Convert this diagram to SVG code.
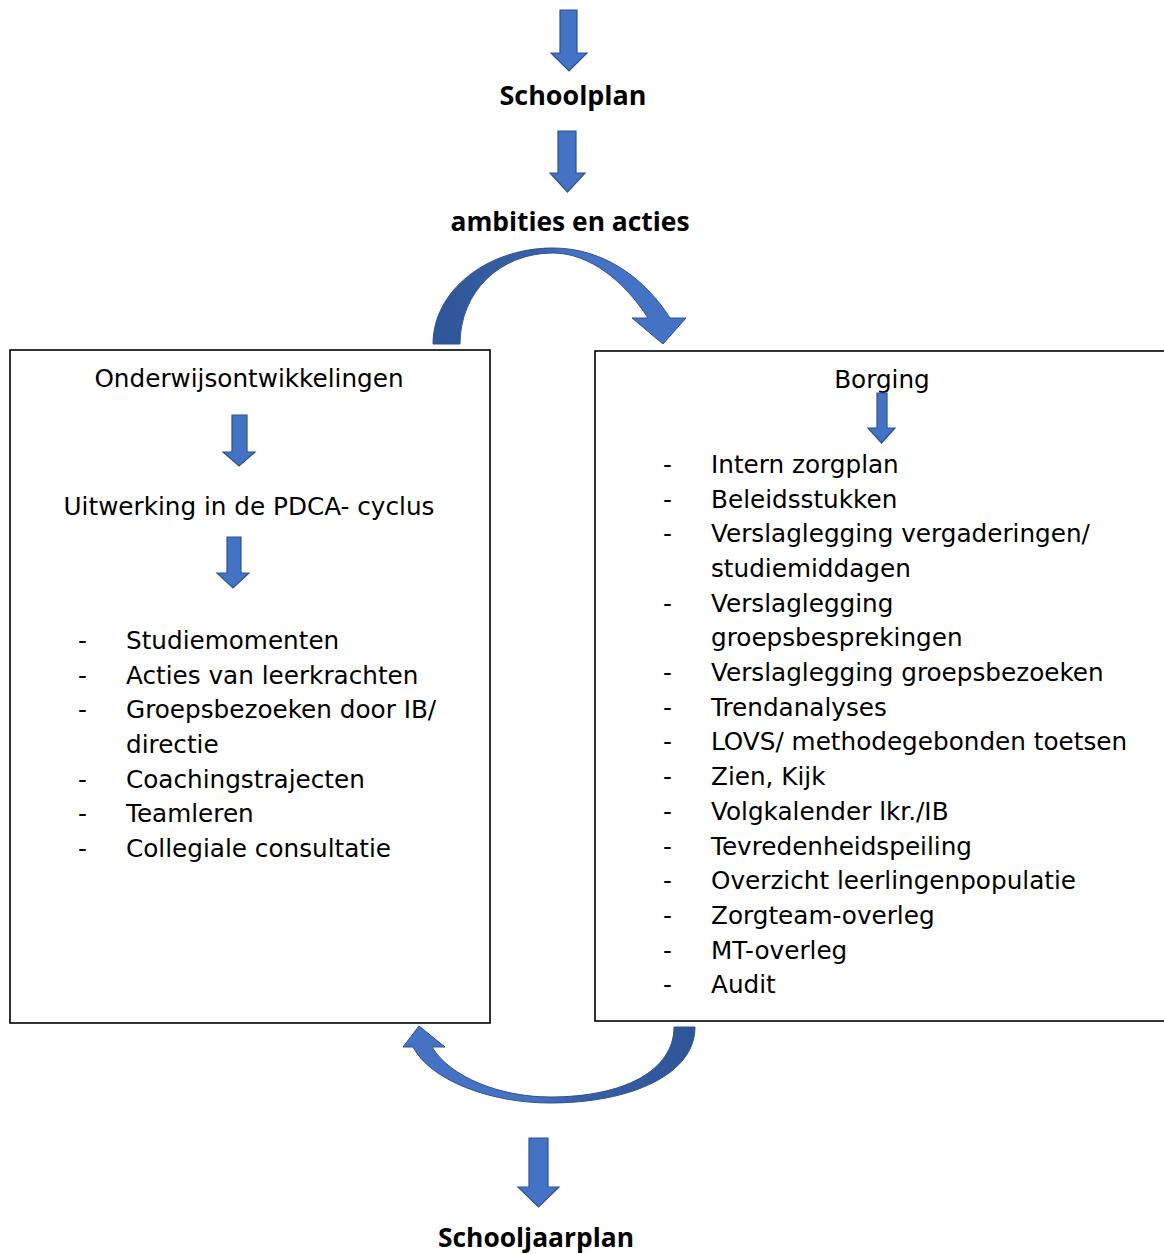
<svg xmlns="http://www.w3.org/2000/svg" width="1164" height="1254" viewBox="0 0 1164 1254">
<style>
.box{fill:#fff;stroke:#000;stroke-width:1.6}
.arr{fill:#4472C4;stroke:#2F528F;stroke-width:1.2;stroke-linejoin:miter}
.h{font-family:"Open Sans","Liberation Sans",sans-serif;font-weight:700;font-size:27px;fill:#000;text-anchor:middle}
.t{font-family:"DejaVu Sans",Verdana,sans-serif;font-size:24.7px;fill:#000}
.c{text-anchor:middle}
</style>
<defs>
<linearGradient id="gTop" gradientUnits="userSpaceOnUse" x1="433" y1="0" x2="686" y2="0">
<stop offset="0" stop-color="#2E5596"/><stop offset="0.42" stop-color="#3860AA"/><stop offset="0.55" stop-color="#4472C4"/><stop offset="1" stop-color="#4472C4"/>
</linearGradient>
<linearGradient id="gBot" gradientUnits="userSpaceOnUse" x1="403" y1="0" x2="695" y2="0">
<stop offset="0" stop-color="#4472C4"/><stop offset="0.45" stop-color="#4472C4"/><stop offset="0.6" stop-color="#3860AA"/><stop offset="1" stop-color="#2E5596"/>
</linearGradient>
</defs>

<g id="node-left">
<rect class="box" x="10" y="350" width="480" height="673"/>
<text class="t c" x="249" y="387">Onderwijsontwikkelingen</text>
<text class="t c" x="249" y="515">Uitwerking in de PDCA- cyclus</text>
<g class="t">
<text x="78" y="649">-</text><text x="126" y="649">Studiemomenten</text>
<text x="78" y="684">-</text><text x="126" y="684">Acties van leerkrachten</text>
<text x="78" y="718">-</text><text x="126" y="718">Groepsbezoeken door IB/</text>
<text x="126" y="753">directie</text>
<text x="78" y="788">-</text><text x="126" y="788">Coachingstrajecten</text>
<text x="78" y="822">-</text><text x="126" y="822">Teamleren</text>
<text x="78" y="857">-</text><text x="126" y="857">Collegiale consultatie</text>
</g>
</g>

<g id="node-right">
<rect class="box" x="595" y="351" width="580" height="670"/>
<text class="t c" x="882" y="388">Borging</text>
<g class="t">
<text x="663" y="473">-</text><text x="711" y="473">Intern zorgplan</text>
<text x="663" y="508">-</text><text x="711" y="508">Beleidsstukken</text>
<text x="663" y="542">-</text><text x="711" y="542">Verslaglegging vergaderingen/</text>
<text x="711" y="577">studiemiddagen</text>
<text x="663" y="612">-</text><text x="711" y="612">Verslaglegging</text>
<text x="711" y="646">groepsbesprekingen</text>
<text x="663" y="681">-</text><text x="711" y="681">Verslaglegging groepsbezoeken</text>
<text x="663" y="716">-</text><text x="711" y="716">Trendanalyses</text>
<text x="663" y="750">-</text><text x="711" y="750">LOVS/ methodegebonden toetsen</text>
<text x="663" y="785">-</text><text x="711" y="785">Zien, Kijk</text>
<text x="663" y="820">-</text><text x="711" y="820">Volgkalender lkr./IB</text>
<text x="663" y="855">-</text><text x="711" y="855">Tevredenheidspeiling</text>
<text x="663" y="889">-</text><text x="711" y="889">Overzicht leerlingenpopulatie</text>
<text x="663" y="924">-</text><text x="711" y="924">Zorgteam-overleg</text>
<text x="663" y="959">-</text><text x="711" y="959">MT-overleg</text>
<text x="663" y="993">-</text><text x="711" y="993">Audit</text>
</g>
</g>

<g id="node-schoolplan"><text class="h" x="573" y="105" textLength="147" lengthAdjust="spacingAndGlyphs">Schoolplan</text></g>
<g id="node-ambities"><text class="h" x="570" y="231" textLength="239" lengthAdjust="spacingAndGlyphs">ambities en acties</text></g>
<g id="node-schooljaarplan"><text class="h" x="536" y="1247" textLength="196" lengthAdjust="spacingAndGlyphs">Schooljaarplan</text></g>

<g id="connectors">
<path class="arr" d="M560 10 H577 V53 H587 L569 71 L551 53 H560 Z"/>
<path class="arr" d="M558 131 H576 V173 H585 L567.5 192 L550 173 H558 Z"/>
<path class="arr" d="M232 415 H247 V452 H255 L239 466 L223 452 H232 Z"/>
<path class="arr" d="M227 537 H241 V573 H249 L233 588 L217 573 H227 Z"/>
<path class="arr" d="M877 393 H887 V428 H895 L881.5 443 L868 428 H877 Z" stroke-width="0.6"/>
<path class="arr" d="M529 1138 H548 V1187 H559 L538.5 1207 L518 1187 H529 Z"/>
<path d="M433 344 C433 290 488 248 553 248 C605 248 646 280 670 318 L686 318 L663 344 L632 318 L648 318 C625 282 590 253 553 253 C500 253 460 292 460 344 Z" fill="url(#gTop)" stroke="#2F528F" stroke-width="1"/>
<path d="M674 1027 L695 1027 C695 1075 630 1103 550 1103 C490 1103 430 1080 413 1047 L403 1047 L419 1026 L445 1047 L432 1047 C450 1077 500 1097 550 1097 C625 1097 674 1070 674 1027 Z" fill="url(#gBot)" stroke="#2F528F" stroke-width="1"/>
</g>
</svg>
